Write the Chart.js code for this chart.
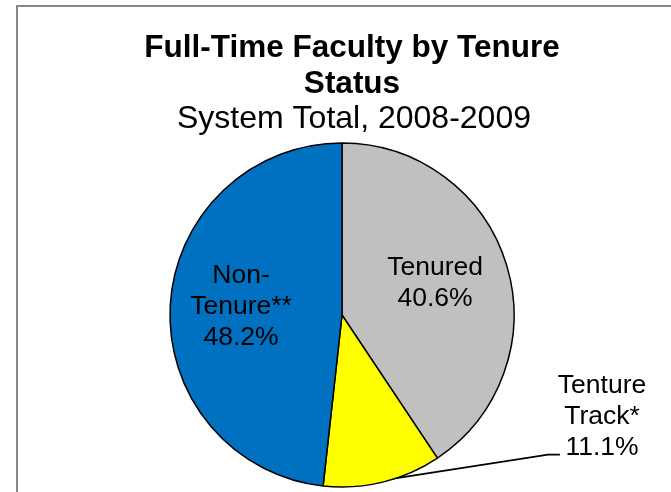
<!DOCTYPE html>
<html>
<head>
<meta charset="utf-8">
<script src="https://cdn.jsdelivr.net/npm/chart.js@4"></script>
<style>
  html, body { margin: 0; padding: 0; background: #fff; }
</style>
</head>
<body>
<canvas id="tenureChart" width="671" height="492"></canvas>
<script>
// data
const titleLines = ['Full-Time Faculty by Tenure', 'Status'];
const subtitle = 'System Total, 2008-2009';
const categories = ['Tenured', 'Tenture Track*', 'Non-Tenure**'];
const categoryLines = [['Tenured'], ['Tenture', 'Track*'], ['Non-', 'Tenure**']];
const shares = [40.6, 11.1, 48.2];
const sliceColors = ['#C0C0C0', '#FFFF00', '#0070C0'];

// where each label sits, in units of the pie radius from the centre
const labelPlacement = [
    { dx: 0.541, dy: -0.233 },
    { dx: 1.512, dy: 0.455, leader: { at: 0.38, bendX: 1.198, endX: 1.267, y: 0.812 } },
    { dx: -0.587, dy: -0.184 }
];

const FONT = '"Liberation Sans", Arial, sans-serif';

const decorations = {
    id: 'decorations',
    beforeDraw(chart) {
        const ctx = chart.ctx;
        ctx.save();
        ctx.fillStyle = '#fff';
        ctx.fillRect(0, 0, chart.width, chart.height);
        // outer frame, runs off the right and bottom edge
        ctx.strokeStyle = '#878787';
        ctx.lineWidth = 2;
        ctx.strokeRect(17, 6, chart.width + 40, chart.height + 40);

        ctx.fillStyle = '#000';
        ctx.textAlign = 'center';
        ctx.textBaseline = 'alphabetic';
        ctx.font = 'bold 31.5px ' + FONT;
        titleLines.forEach((t, i) => ctx.fillText(t, 352, 57.3 + i * 36));
        ctx.font = '32px ' + FONT;
        ctx.fillText(subtitle, 354, 128.3);
        ctx.restore();
    },
    afterDatasetsDraw(chart) {
        const ctx = chart.ctx;
        const meta = chart.getDatasetMeta(0);
        ctx.save();
        ctx.fillStyle = '#000';
        ctx.strokeStyle = '#000';
        ctx.textAlign = 'center';
        ctx.textBaseline = 'alphabetic';
        ctx.font = '26.5px ' + FONT;
        meta.data.forEach((arc, i) => {
            const { x, y, outerRadius, startAngle, endAngle } =
                arc.getProps(['x', 'y', 'outerRadius', 'startAngle', 'endAngle'], true);
            const p = labelPlacement[i];
            const lines = categoryLines[i].concat([shares[i].toFixed(1) + '%']);
            const lx = x + p.dx * outerRadius;
            const ly = y + p.dy * outerRadius;
            lines.forEach((t, j) => ctx.fillText(t, lx, ly + j * 30.7));

            if (p.leader) {
                const a = startAngle + (endAngle - startAngle) * p.leader.at;
                ctx.lineWidth = 1.6;
                ctx.beginPath();
                ctx.moveTo(x + Math.cos(a) * outerRadius, y + Math.sin(a) * outerRadius);
                ctx.lineTo(x + p.leader.bendX * outerRadius, y + p.leader.y * outerRadius);
                ctx.lineTo(x + p.leader.endX * outerRadius, y + p.leader.y * outerRadius);
                ctx.stroke();
            }
        });
        ctx.restore();
    }
};

new Chart(document.getElementById('tenureChart'), {
    type: 'pie',
    data: {
        labels: categories,
        datasets: [{
            data: shares,
            backgroundColor: sliceColors,
            borderColor: '#000',
            borderWidth: 1.5
        }]
    },
    options: {
        responsive: false,
        animation: false,
        layout: {
            padding: { top: 142.25, bottom: 4.25, left: 13, right: 0 }
        },
        plugins: {
            legend: { display: false },
            tooltip: { enabled: false },
            title: { display: false }
        }
    },
    plugins: [decorations]
});
</script>
</body>
</html>
